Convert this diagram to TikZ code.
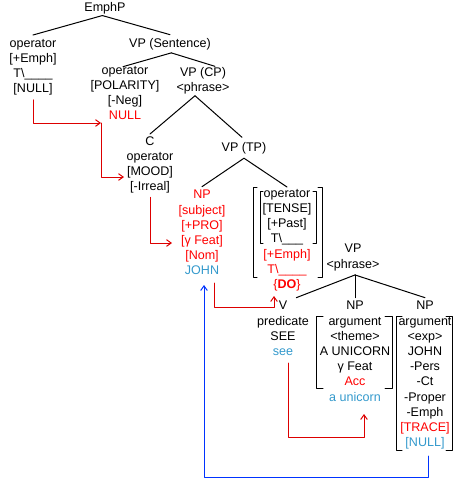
\documentclass[tikz,border=0pt]{standalone}
\usepackage{fontspec}
\setmainfont{Liberation Sans}
\usetikzlibrary{arrows.meta}
\definecolor{tred}{RGB}{255,0,0}
\definecolor{lred}{RGB}{221,0,0}
\definecolor{tblue}{RGB}{51,153,204}
\definecolor{lblue}{RGB}{0,51,255}

\begin{document}
\begin{tikzpicture}[x=0.75pt,y=-0.75pt,line cap=round,line join=round,
  lab/.style={inner sep=0pt,anchor=north,align=center,font=\fontsize{9.4}{11.4}\selectfont},
  edge/.style={line width=0.75pt},
  brk/.style={line width=0.75pt},
  redarr/.style={line width=0.75pt,draw=lred,-{Straight Barb[length=3.5pt,width=5pt]}},
  bluearr/.style={line width=0.75pt,draw=lblue,-{Straight Barb[length=3.5pt,width=5pt]}}]
  \useasboundingbox (0,0) rectangle (454,479);
  \node[lab] (emph) at (105,2) {EmphP};
  \node[lab] (opA) at (33,39) {operator\\{[}+Emph{]}\\T\textbackslash\_\_\_\_\\{[}NULL{]}};
  \node[lab] (vpS) at (170,38) {VP (Sentence)};
  \node[lab] (opPol) at (125,66) {operator\\{[}POLARITY{]}\\{[}-Neg{]}\\\textcolor{tred}{NULL}};
  \node[lab] (vpCP) at (203,67) {VP (CP)\\\textless phrase\textgreater};
  \node[lab] (cMood) at (150,136) {C\\operator\\{[}MOOD{]}\\{[}-Irreal{]}};
  \node[lab] (vpTP) at (244,142) {VP (TP)};
  \node[lab,text=tred] (npSubj) at (202,190) {NP\\{[}subject{]}\\{[}+PRO{]}\\{[}γ Feat{]}\\{[}Nom{]}\\\textcolor{tblue}{JOHN}};
  \node[lab] (tense) at (287,189) {operator\\{[}TENSE{]}\\{[}+Past{]}\\T\textbackslash\_\_\_\\\textcolor{tred}{[+Emph]}\\\textcolor{tred}{T\textbackslash\_\_\_\_}\\\textcolor{tred}{\{\textbf{DO}\}}};
  \node[lab] (vpPhr) at (353,244) {VP\\\textless phrase\textgreater};
  \node[lab] (vPred) at (283,301) {V\\predicate\\SEE\\\textcolor{tblue}{see}};
  \node[lab] (npTheme) at (355,301) {NP\\argument\\\textless theme\textgreater\\A UNICORN\\γ Feat\\\textcolor{tred}{Acc}\\\textcolor{tblue}{a unicorn}};
  \node[lab] (npExp) at (425,301) {NP\\argument\\\textless exp\textgreater\\JOHN\\-Pers\\-Ct\\-Proper\\-Emph\\\textcolor{tred}{[TRACE]}\\\textcolor{tblue}{[NULL]}};
  \draw[edge] ([xshift=-2pt,yshift=-1pt]emph.south) -- ([yshift=3pt]opA.north);
  \draw[edge] ([xshift=-2pt,yshift=-1pt]emph.south) -- ([yshift=2.5pt]vpS.north);
  \draw[edge] ([xshift=1pt,yshift=-2pt]vpS.south) -- ([xshift=-1.5pt,yshift=-0.5pt]opPol.north);
  \draw[edge] ([xshift=1pt,yshift=-2pt]vpS.south) -- ([xshift=9pt,yshift=0.5pt]vpCP.north);
  \draw[edge] ([xshift=-6pt,yshift=-1pt]vpCP.south) -- ([yshift=1.5pt]cMood.north);
  \draw[edge] ([xshift=-6pt,yshift=-1pt]vpCP.south) -- ([xshift=-1.5pt,yshift=3.5pt]vpTP.north);
  \draw[edge] ([yshift=-3pt]vpTP.south) -- ([yshift=2.5pt]npSubj.north);
  \draw[edge] ([yshift=-3pt]vpTP.south) -- ([yshift=1.5pt]tense.north);
  \draw[edge] ([xshift=1.5pt,yshift=-3pt]vpPhr.south) -- ([xshift=10pt,yshift=2.5pt]vPred.north);
  \draw[edge] ([xshift=1.5pt,yshift=-3pt]vpPhr.south) -- ([yshift=2.5pt]npTheme.north);
  \draw[edge] ([xshift=1.5pt,yshift=-3pt]vpPhr.south) -- ([yshift=2.5pt]npExp.north);
  \draw[brk] (257,187) -| (253,277) -- (257,277);
  \draw[brk] (318,187) -| (322,277) -- (318,277);
  \draw[brk] (263,191) -| (260,243) -- (263,243);
  \draw[brk] (313,191) -| (316,243) -- (313,243);
  \draw[brk] (323,316) -| (316,388) -- (323,388);
  \draw[brk] (385,316) -| (392,388) -- (385,388);
  \draw[brk] (402,316) -| (396,450) -- (402,450);
  \draw[brk] (446,316) -| (452,450) -- (446,450);
  \coordinate (polIn) at (101,123);
  \coordinate (moodIn) at (124,177);
  \coordinate (featIn) at (172,243);
  \coordinate (johnOut) at (214,283);
  \coordinate (doIn) at (274,296);
  \coordinate (seeOut) at (288,363);
  \coordinate (unicIn) at (364,414);
  \coordinate (nullOut) at (428,456);
  \coordinate (johnIn) at (204,285);
  \draw[redarr] ([yshift=-3pt]opA.south) |- (polIn);
  \draw[redarr] (polIn) |- (moodIn);
  \draw[redarr] ([yshift=-3pt]cMood.south) |- (featIn);
  \draw[redarr] (johnOut) -- ++(0,24) -| (doIn);
  \draw[redarr] (seeOut) -- ++(0,74) -| (unicIn);
  \draw[bluearr] (nullOut) -- ++(0,21) -| (johnIn);
\end{tikzpicture}
\end{document}
